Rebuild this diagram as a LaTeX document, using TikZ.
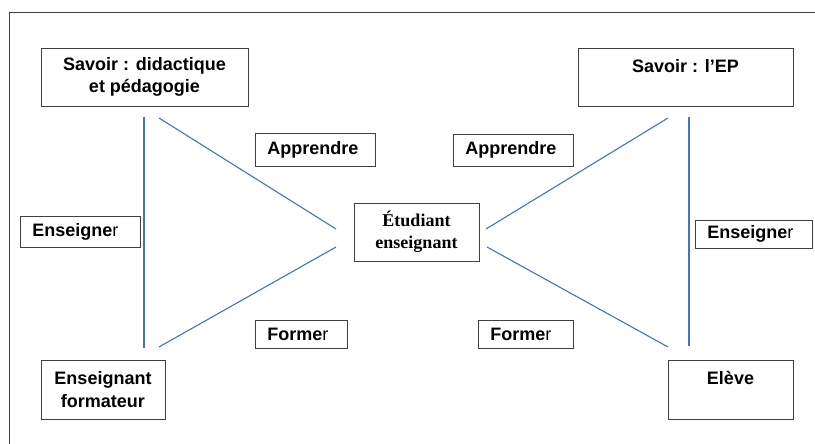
\documentclass[tikz,border=0pt]{standalone}
\usepackage{fontspec}
\setmainfont{Liberation Sans}
\newfontfamily\serifbox{Liberation Serif}
\definecolor{lineblue}{RGB}{68,114,196}
\definecolor{boxgray}{RGB}{64,64,64}
\begin{document}
\begin{tikzpicture}[x=1pt, y=-1pt,
        box/.style={draw=boxgray, line width=0.8pt, align=center, inner sep=0pt,
            font=\fontsize{18}{22.5}\selectfont\bfseries},
        verbbox/.style={draw=boxgray, line width=0.8pt, anchor=west, align=left,
            inner xsep=12pt, inner ysep=0pt, font=\fontsize{18}{22.5}\selectfont\bfseries},
        link/.style={lineblue, line width=1.1pt}]
        \useasboundingbox (0,0) rectangle (815,444);
        \draw[boxgray, line width=0.8pt] (9.5,444) -- (9.5,12.3) -- (815,12.3);
        % the five poles
        \node[box, minimum width=207, minimum height=58] (SavDid) at (144.5,77) {Savoir : didactique\\et pédagogie};
        \node[box, minimum width=215, minimum height=58] (SavEP) at (685.5,77) {Savoir : l’EP\\\mbox{}};
        \node[box, minimum width=124, minimum height=59] (EnsForm) at (103,389.5) {Enseignant\\formateur};
        \node[box, minimum width=125, minimum height=59] (Eleve) at (730.5,389.5) {Elève\\\mbox{}};
        \node[box, minimum width=125, minimum height=58, font=\fontsize{18}{22}\selectfont\serifbox\bfseries] (Etud) at (416.5,232) {Étudiant\\enseignant};
        % the verbs
        \node[verbbox, text width=96, minimum height=33] (AppL) at (255,149.5) {Apprendre};
        \node[verbbox, text width=96, minimum height=32] (AppR) at (453,150) {Apprendre};
        \node[verbbox, text width=68, minimum height=28] (ForL) at (255,334.5) {Forme{\mdseries r}};
        \node[verbbox, text width=71, minimum height=28] (ForR) at (478,334.5) {Forme{\mdseries r}};
        \node[verbbox, text width=96, minimum height=31] (EnsL) at (20,231.5) {Enseigne{\mdseries r}};
        \node[verbbox, text width=93, minimum height=28] (EnsR) at (695,234) {Enseigne{\mdseries r}};
        % line ends
        \coordinate (LvTop) at (144,117);
        \coordinate (LvBot) at (144,348);
        \coordinate (LdTop) at (159,118);
        \coordinate (LdBot) at (159,347);
        \coordinate (LmTop) at (336,229);
        \coordinate (LmBot) at (336,247);
        \coordinate (RmTop) at (486,229);
        \coordinate (RmBot) at (487,247);
        \coordinate (RdTop) at (668,118);
        \coordinate (RdBot) at (668,347);
        \coordinate (RvTop) at (689,117);
        \coordinate (RvBot) at (689,346);
        \draw[link] (LvTop) -- (LvBot);
        \draw[link] (LdTop) -- (LmTop);
        \draw[link] (LdBot) -- (LmBot);
        \draw[link] (RmTop) -- (RdTop);
        \draw[link] (RmBot) -- (RdBot);
        \draw[link] (RvTop) -- (RvBot);
    \end{tikzpicture}
\end{document}
